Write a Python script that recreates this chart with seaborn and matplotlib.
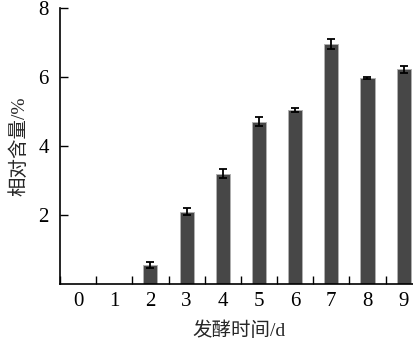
import matplotlib
matplotlib.use("Agg")
import matplotlib.pyplot as plt
import seaborn as sns
import pandas as pd
from matplotlib.ticker import FixedLocator

days = ["0", "1", "2", "3", "4", "5", "6", "7", "8", "9"]
content = [0, 0, 0.55, 2.10, 3.20, 4.70, 5.05, 6.95, 5.96, 6.22]
errors = [0, 0, 0.10, 0.09, 0.13, 0.13, 0.06, 0.14, 0.03, 0.11]
yticks = [2, 4, 6, 8]

sns.set_theme(style="ticks")
plt.rcParams["font.family"] = ["Liberation Serif", "Noto Sans CJK SC"]
plt.rcParams["font.size"] = 15

df = pd.DataFrame({"day": days, "value": content})

fig = plt.figure(figsize=(4.14, 3.43), dpi=100)
ax = fig.add_axes([60 / 414, 59 / 343, 1 - 60 / 414 + 0.01, 276 / 343])

sns.barplot(data=df, x="day", y="value", order=days, color="#474747",
            saturation=1, width=0.39, errorbar=None, ax=ax,
            edgecolor="#b0b0b0", linewidth=0.7)
xs = list(range(len(days)))
ax.errorbar(xs[2:], content[2:], yerr=errors[2:], fmt="none", ecolor="black",
            elinewidth=1.3, capsize=3.2, capthick=1.3)

ax.set_ylim(0, 8)
ax.set_xlim(-0.5, 9.4)
ax.set_yticks(yticks)
ax.set_yticklabels([str(t) for t in yticks], fontsize=15)
ax.set_xticks(xs)
ax.set_xticklabels(days, fontsize=15)
ax.tick_params(axis="x", which="major", length=0, pad=6, colors="black")
ax.xaxis.set_minor_locator(FixedLocator([i + 0.5 for i in range(-1, 9)]))
ax.tick_params(axis="x", which="minor", direction="in", length=6, width=1, color="black")
ax.tick_params(axis="y", direction="in", length=6, width=1, pad=8, colors="black")

for s in ["top", "right"]:
    ax.spines[s].set_visible(False)
for s in ["left", "bottom"]:
    ax.spines[s].set_linewidth(1.2)
    ax.spines[s].set_color("black")

ax.set_xlabel("发酵时间/d", fontsize=14, labelpad=7)
ax.set_ylabel("相对含量/%", fontsize=14, labelpad=7)

fig.savefig("out.png", dpi=100)
